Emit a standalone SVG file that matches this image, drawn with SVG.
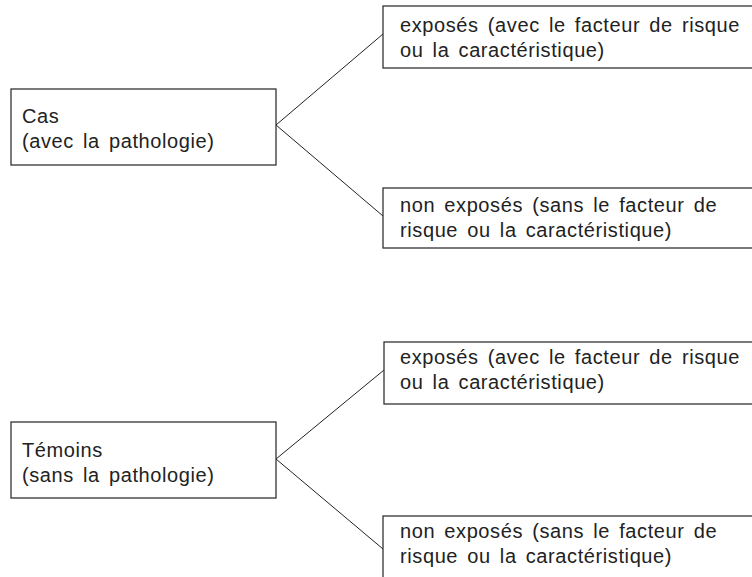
<svg xmlns="http://www.w3.org/2000/svg" width="752" height="577" viewBox="0 0 752 577">
<style>
.box{fill:#fff;stroke:#333;stroke-width:1.3}
.lbl{font-family:"Liberation Sans",Arial,sans-serif;font-size:20px;letter-spacing:0.6px;word-spacing:3px;fill:#222}
.conn{stroke:#222;stroke-width:1;fill:none}
</style>
<rect width="752" height="577" fill="#fff"/>
<g id="connectors">
<line class="conn" x1="276" y1="125" x2="383" y2="34"/>
<line class="conn" x1="276" y1="125" x2="383" y2="216"/>
<line class="conn" x1="276" y1="459" x2="384" y2="370"/>
<line class="conn" x1="276" y1="459" x2="383" y2="549"/>
</g>
<g id="cas">
<rect class="box" x="11" y="89" width="265" height="76"/>
<text class="lbl" x="22" y="123">Cas</text>
<text class="lbl" x="22" y="148">(avec la pathologie)</text>
</g>
<g id="cas-exposes">
<rect class="box" x="383" y="6" width="380" height="62"/>
<text class="lbl" x="400" y="32">exposés (avec le facteur de risque</text>
<text class="lbl" x="400" y="57">ou la caractéristique)</text>
</g>
<g id="cas-non-exposes">
<rect class="box" x="383" y="188" width="380" height="60"/>
<text class="lbl" x="400" y="212">non exposés (sans le facteur de</text>
<text class="lbl" x="400" y="237">risque ou la caractéristique)</text>
</g>
<g id="temoins">
<rect class="box" x="11" y="422" width="265" height="76"/>
<text class="lbl" x="22" y="457">Témoins</text>
<text class="lbl" x="22" y="482">(sans la pathologie)</text>
</g>
<g id="temoins-exposes">
<rect class="box" x="384" y="342" width="380" height="62"/>
<text class="lbl" x="400" y="364">exposés (avec le facteur de risque</text>
<text class="lbl" x="400" y="389">ou la caractéristique)</text>
</g>
<g id="temoins-non-exposes">
<rect class="box" x="383" y="516" width="380" height="80"/>
<text class="lbl" x="400" y="538">non exposés (sans le facteur de</text>
<text class="lbl" x="400" y="563">risque ou la caractéristique)</text>
</g>
</svg>
